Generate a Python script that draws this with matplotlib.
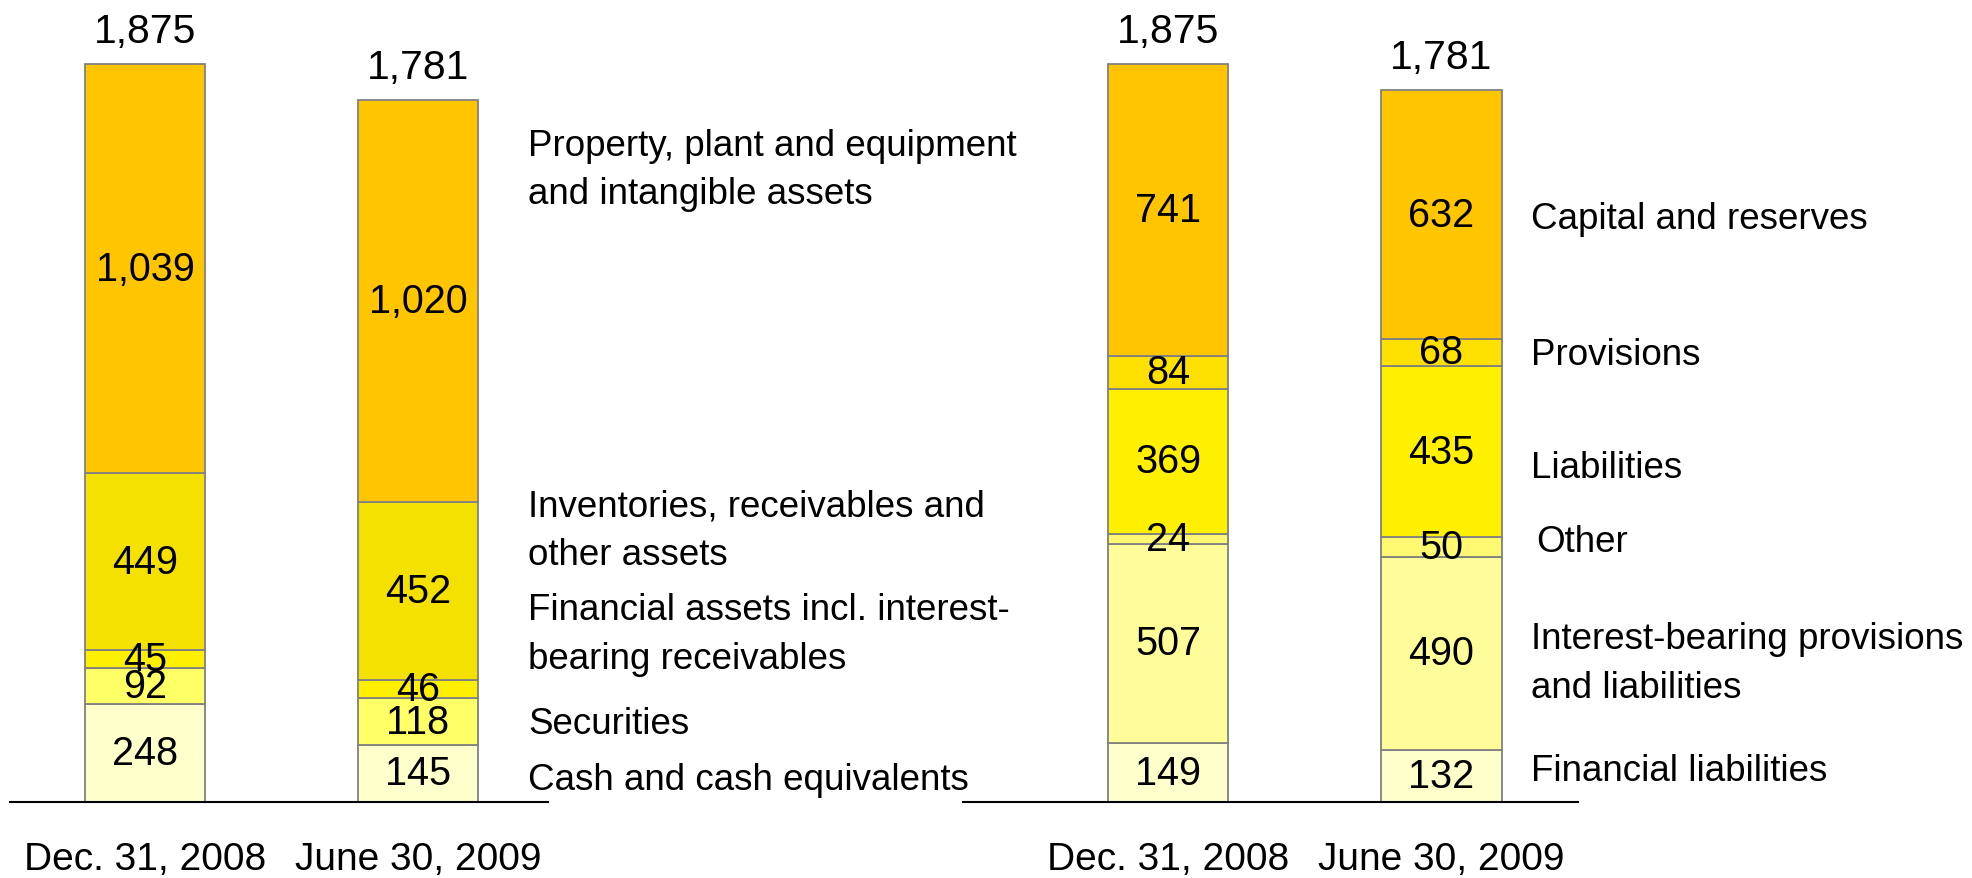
import matplotlib.pyplot as plt

plt.rcParams['font.family'] = ['Liberation Sans', 'DejaVu Sans']

dates = ["Dec. 31, 2008", "June 30, 2009"]

# assets (bottom to top)
asset_cats = ["Cash and cash equivalents", "Securities",
              "Financial assets incl. interest-\nbearing receivables",
              "Inventories, receivables and\nother assets",
              "Property, plant and equipment\nand intangible assets"]
asset_dec = [248, 92, 45, 449, 1039]
asset_jun = [145, 118, 46, 452, 1020]
asset_totals = ["1,875", "1,781"]
asset_label_y = [56, 198, 426, 690, 1605]
asset_colors = ["#FFFFCC", "#FFFF66", "#FFEF00", "#F5E100", "#FFC600"]

# liabilities and equity (bottom to top)
liab_cats = ["Financial liabilities",
             "Interest-bearing provisions\nand liabilities",
             "Other", "Liabilities", "Provisions", "Capital and reserves"]
liab_dec = [149, 507, 24, 369, 84, 741]
liab_jun = [132, 490, 50, 435, 68, 632]
liab_totals = ["1,875", "1,781"]
liab_label_y = [81, 353, 660, 850, 1135, 1482]
liab_colors = ["#FFFFCC", "#FFFD99", "#FFF870", "#FFF000", "#FFE100", "#FFC600"]

W, H = 1972, 879
fig = plt.figure(figsize=(W / 100, H / 100), dpi=100)

base = (H - 803) / H
height = 788 / H


def panel(ax, dec, jun, colors, cats, label_y, totals, xlim, label_x, lab_dx=0.0):
    series = [dec, jun]
    for i, vals in enumerate(series):
        bottom = 0
        for v, c in zip(vals, colors):
            ax.bar(i, v, bottom=bottom, width=0.44, color=c,
                   edgecolor="#808080", linewidth=1.3)
            ax.text(i, bottom + v / 2, f"{v:,}", ha="center", va="center",
                    fontsize=28.5)
            bottom += v
        ax.annotate(totals[i], (i, bottom), xytext=(0, 10),
                    textcoords="offset points", ha="center", va="bottom",
                    fontsize=29.5)
        ax.annotate(dates[i], (i, 0), xytext=(0, -41),
                    textcoords="offset points", ha="center", va="center",
                    fontsize=28, annotation_clip=False)
    for cat, y in zip(cats, label_y):
        dx = lab_dx if cat == "Other" else 0
        ax.text(label_x + dx, y, cat, ha="left", va="center", fontsize=26.5,
                linespacing=1.5)
    ax.set_xlim(*xlim)
    ax.set_ylim(0, 2000)
    for s in ["top", "left", "right"]:
        ax.spines[s].set_visible(False)
    ax.spines["bottom"].set_linewidth(1.5)
    ax.set_xticks([])
    ax.set_yticks([])
    ax.patch.set_alpha(0)


ax1 = fig.add_axes([10 / W, base, (548 - 10) / W, height])
panel(ax1, asset_dec, asset_jun, asset_colors, asset_cats, asset_label_y,
      asset_totals, (-0.497, 1.477), 1.404)

ax2 = fig.add_axes([963 / W, base, (1578 - 963) / W, height])
panel(ax2, liab_dec, liab_jun, liab_colors, liab_cats, liab_label_y,
      liab_totals, (-0.750, 1.499), 1.327, lab_dx=0.02)

fig.savefig("out.png", dpi=100)
